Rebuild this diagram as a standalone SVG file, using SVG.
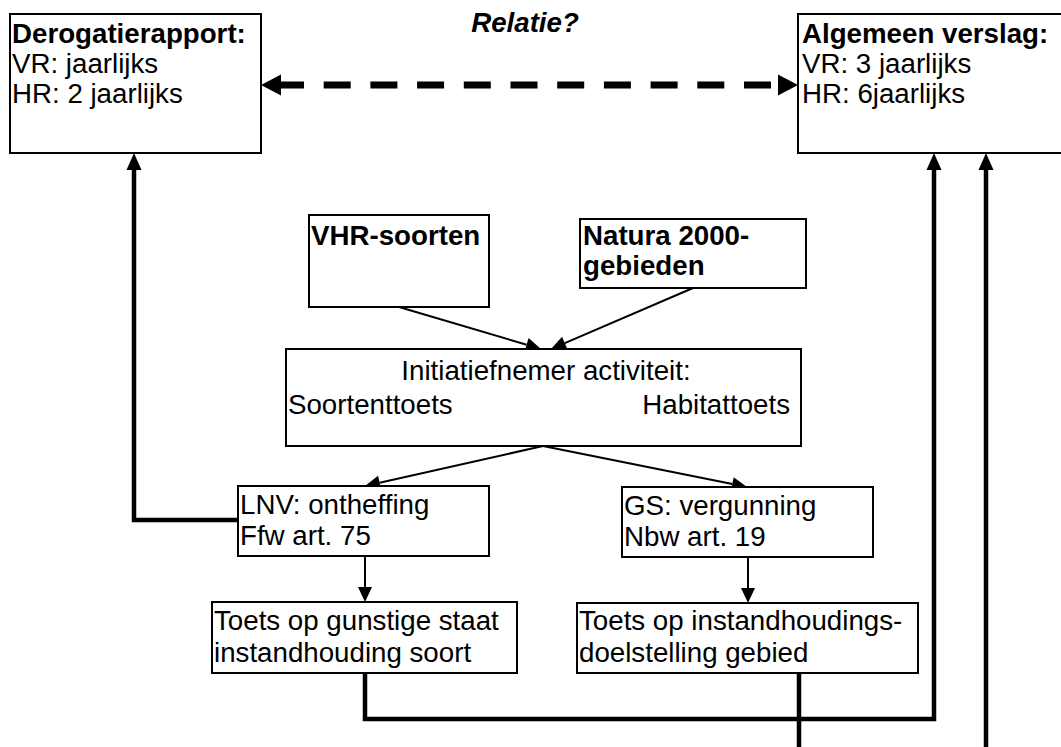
<svg xmlns="http://www.w3.org/2000/svg" width="1061" height="747" viewBox="0 0 1061 747">
<style>
.box{fill:#fff;stroke:#000;stroke-width:2}
.t{font-family:"Liberation Sans",Arial,sans-serif;font-size:27.7px;fill:#000}
.b{font-weight:bold}
.thin{fill:none;stroke:#000;stroke-width:2}
.thick{fill:none;stroke:#000;stroke-width:4.5}
.dash{fill:none;stroke:#000;stroke-width:7;stroke-dasharray:27 19.7;stroke-dashoffset:4}
</style>
<defs>
<marker id="ah" markerUnits="userSpaceOnUse" viewBox="0 -8 16 16" refX="0" refY="0" markerWidth="16" markerHeight="16" orient="auto" overflow="visible">
<path d="M0,-7 L15,0 L0,7 z" fill="#000"/>
</marker>
<marker id="ahk" markerUnits="userSpaceOnUse" viewBox="0 -9 18 18" refX="0" refY="0" markerWidth="18" markerHeight="18" orient="auto" overflow="visible">
<path d="M0,-7.5 L17,0 L0,7.5 z" fill="#000"/>
</marker>
</defs>
<rect width="1061" height="747" fill="#fff"/>

<g id="connectors">
<line class="dash" x1="281" y1="85" x2="778" y2="85"/>
<polygon points="261,85 281,74.5 281,95.5" fill="#000"/>
<polygon points="798,85 778,74.5 778,95.5" fill="#000"/>
<line class="thin" x1="399" y1="307" x2="526.6" y2="344.7" marker-end="url(#ah)"/>
<line class="thin" x1="693" y1="288" x2="564.8" y2="343.1" marker-end="url(#ah)"/>
<line class="thin" x1="543" y1="446" x2="379.6" y2="482.7" marker-end="url(#ah)"/>
<line class="thin" x1="543" y1="446" x2="732.3" y2="484" marker-end="url(#ah)"/>
<line class="thin" x1="365" y1="556" x2="365" y2="587" marker-end="url(#ah)"/>
<line class="thin" x1="748" y1="557" x2="748" y2="588" marker-end="url(#ah)"/>
<polyline class="thick" points="238,520 134,520 134,170" marker-end="url(#ahk)"/>
<polyline class="thick" points="365,673 365,719 934,719 934,170" marker-end="url(#ahk)"/>
<line class="thick" x1="986" y1="747" x2="986" y2="170" marker-end="url(#ahk)"/>
<line class="thick" x1="799" y1="672" x2="799" y2="747"/>
</g>

<text class="t b" x="525" y="32" text-anchor="middle" font-style="italic">Relatie?</text>

<g id="derogatierapport">
<rect class="box" x="10" y="14" width="251" height="139"/>
<text class="t b" x="12" y="43">Derogatierapport:</text>
<text class="t" x="12" y="73">VR: jaarlijks</text>
<text class="t" x="12" y="103">HR: 2 jaarlijks</text>
</g>

<g id="algemeen-verslag">
<rect class="box" x="798" y="14" width="300" height="139"/>
<text class="t b" x="802" y="43">Algemeen verslag:</text>
<text class="t" x="802" y="73">VR: 3 jaarlijks</text>
<text class="t" x="802" y="103">HR: 6jaarlijks</text>
</g>

<g id="vhr-soorten">
<rect class="box" x="309" y="215" width="180" height="92"/>
<text class="t b" x="311" y="245">VHR-soorten</text>
</g>

<g id="natura2000">
<rect class="box" x="580" y="219" width="226" height="69"/>
<text class="t b" x="583" y="245">Natura 2000-</text>
<text class="t b" x="583" y="275">gebieden</text>
</g>

<g id="initiatiefnemer">
<rect class="box" x="286" y="349" width="515" height="97"/>
<text class="t" x="546" y="380" text-anchor="middle">Initiatiefnemer activiteit:</text>
<text class="t" x="288" y="414">Soortenttoets</text>
<text class="t" x="790" y="414" text-anchor="end">Habitattoets</text>
</g>

<g id="lnv">
<rect class="box" x="238" y="486" width="251" height="70"/>
<text class="t" x="240" y="514">LNV: ontheffing</text>
<text class="t" x="240" y="545">Ffw art. 75</text>
</g>

<g id="gs">
<rect class="box" x="622" y="487" width="251" height="70"/>
<text class="t" x="624" y="515">GS: vergunning</text>
<text class="t" x="624" y="546">Nbw art. 19</text>
</g>

<g id="toets-soort">
<rect class="box" x="212" y="602" width="305" height="71"/>
<text class="t" x="214" y="630">Toets op gunstige staat</text>
<text class="t" x="214" y="662">instandhouding soort</text>
</g>

<g id="toets-gebied">
<rect class="box" x="577" y="603" width="341" height="70"/>
<text class="t" x="579" y="630">Toets op instandhoudings-</text>
<text class="t" x="579" y="662">doelstelling gebied</text>
</g>
</svg>
